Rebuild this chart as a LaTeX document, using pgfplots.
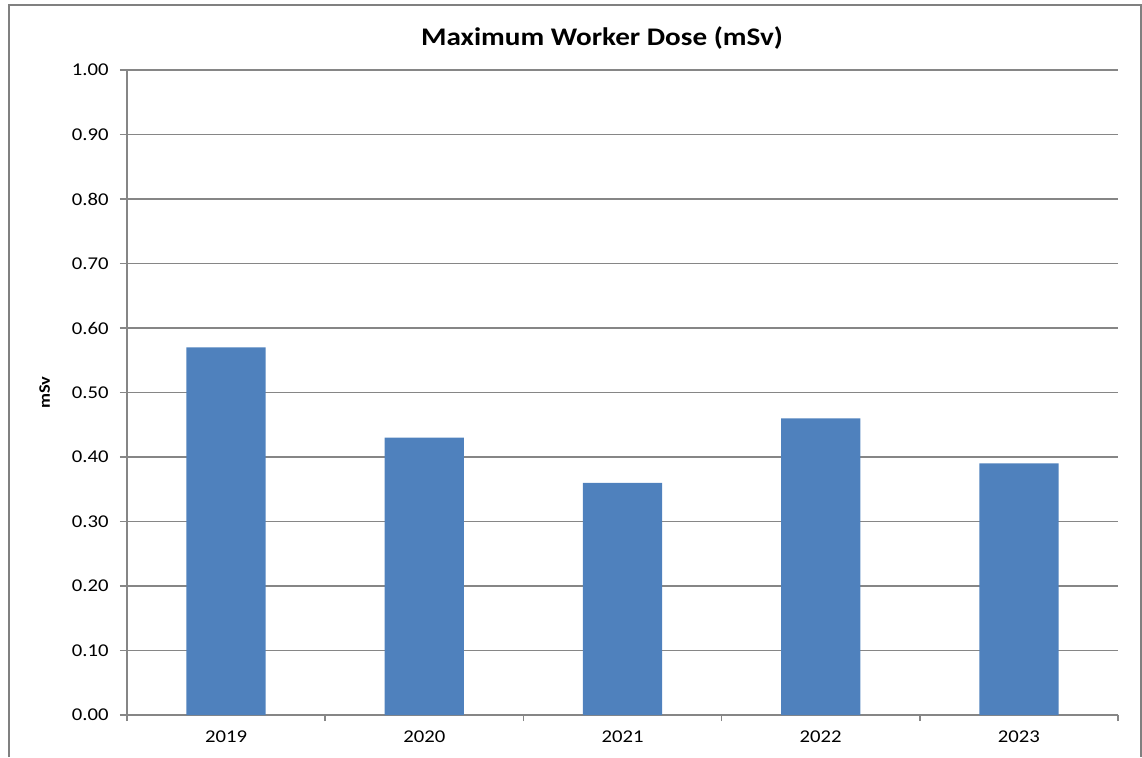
\documentclass[border=0pt]{standalone}
\usepackage{pgfplots}
\pgfplotsset{compat=1.18}
\usepackage{fontspec}
\setmainfont[FakeStretch=1.15]{Carlito}
\definecolor{barblue}{HTML}{4F81BD}
\definecolor{gridgray}{HTML}{868686}
\definecolor{framegray}{HTML}{808080}
\begin{document}
\begin{tikzpicture}[x=0.75pt,y=0.75pt]
\useasboundingbox (0,0) rectangle (1142,757);
% outer frame (left, top, right)
\draw[framegray, line width=1.5pt] (9,0) -- (9,752) -- (1141,752) -- (1141,0);
\node[font=\fontsize{19}{22}\selectfont\bfseries] at (602,719) {Maximum Worker Dose (mSv)};
\begin{axis}[
  at={(95.25pt,31.5pt)}, anchor=south west,
  scale only axis, width=743.25pt, height=483.75pt,
  ymin=0, ymax=1, ytick={0,0.1,...,1.0},
  yticklabel style={/pgf/number format/fixed, /pgf/number format/fixed zerofill, /pgf/number format/precision=2},
  /pgf/number format/assume math mode=true,
  xmin=-0.5, xmax=4.5,
  xtick={0,1,2,3,4}, xticklabels={2019,2020,2021,2022,2023},
  minor xtick={-0.5,0.5,1.5,2.5,3.5,4.5},
  major x tick style={draw=none},
  tick style={gridgray, line width=1.1pt},
  minor tick length=4.5pt, major tick length=5.25pt,
  tick align=outside,
  axis x line*=bottom, axis y line*=left,
  axis line style={gridgray, line width=1.1pt, -},
  ymajorgrids, grid style={gridgray, line width=1.1pt},
  tick label style={font=\fontsize{13.5}{16}\selectfont},
  yticklabel style={xshift=-5pt},
  xticklabel style={yshift=-3pt},
  ylabel={\textbf{mSv}},
  every axis y label/.style={at={(axis description cs:-0.083,0.5)}, rotate=90, anchor=center, font=\fontsize{12}{14}\selectfont},
  clip=false,
]
\addplot[ybar, bar width=0.4, fill=barblue, draw=none] coordinates {(0,0.57) (1,0.43) (2,0.36) (3,0.46) (4,0.39)};
\end{axis}
\end{tikzpicture}
\end{document}
